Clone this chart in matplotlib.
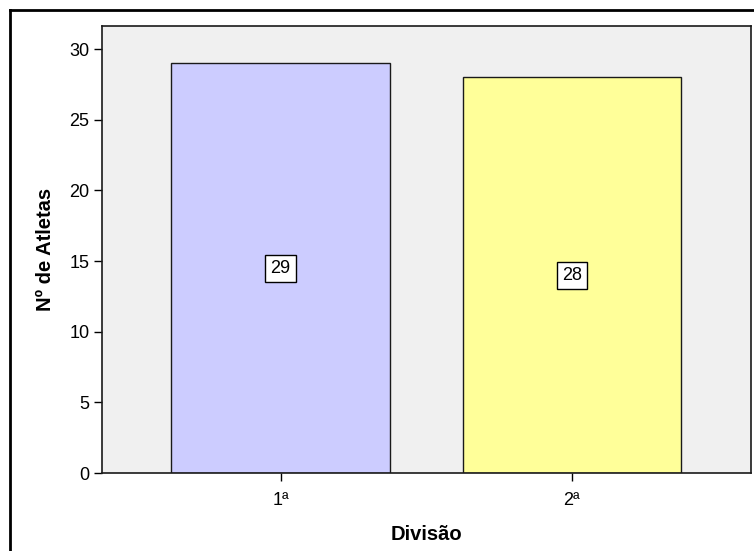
import matplotlib
matplotlib.use('Agg')
import matplotlib.pyplot as plt
from matplotlib.lines import Line2D

plt.rcParams['font.family'] = ['Liberation Sans', 'DejaVu Sans']

categorias = ['1ª', '2ª']
atletas = [29, 28]
cores = ['#CCCCFF', '#FFFF99']
yticks = [0, 5, 10, 15, 20, 25, 30]


def main():
    fig = plt.figure(figsize=(7.54, 5.51), dpi=100)
    ax = fig.add_axes([102 / 754, 1 - 473 / 551, 648.5 / 754, 447 / 551])
    ax.set_facecolor('#F0F0F0')

    x = list(range(len(categorias)))
    bars = ax.bar(x, atletas, width=0.75, color=cores, edgecolor='#1a1a1a', linewidth=1.0)

    # valores no meio das barras
    for b, v in zip(bars, atletas):
        ax.text(b.get_x() + b.get_width() / 2, v / 2, str(v), ha='center', va='center',
                fontsize=13,
                bbox=dict(boxstyle='square,pad=0.28', facecolor='white', edgecolor='black', linewidth=1))

    ax.set_xlim(-0.613, 1.613)
    ax.set_ylim(0, 31.63)
    ax.set_xticks(x)
    ax.set_xticklabels(categorias, fontsize=13)
    ax.set_yticks(yticks)
    ax.tick_params(axis='y', labelsize=13, length=6, width=1, pad=3)
    ax.tick_params(axis='x', length=6, width=1, pad=8)
    for s in ax.spines.values():
        s.set_linewidth(1.2)
        s.set_color('#1a1a1a')

    ax.set_xlabel('Divisão', fontsize=14.5, fontweight='bold', labelpad=11)
    ax.set_ylabel('Nº de Atletas', fontsize=14.5, fontweight='bold', labelpad=10)

    # moldura exterior (so esquerda e topo ficam visiveis)
    fig.add_artist(Line2D([10 / 754, 10 / 754], [0, 1 - 10 / 551], transform=fig.transFigure,
                          color='black', linewidth=2))
    fig.add_artist(Line2D([10 / 754, 1], [1 - 10 / 551, 1 - 10 / 551], transform=fig.transFigure,
                          color='black', linewidth=2))

    fig.savefig('out.png', dpi=100)


if __name__ == '__main__':
    main()
